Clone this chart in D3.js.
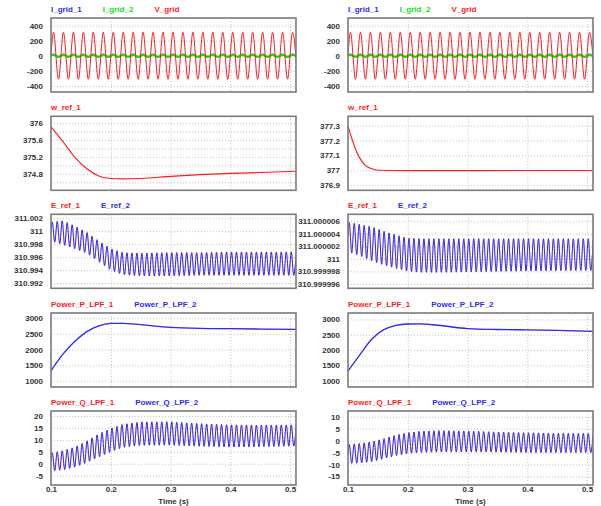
<!DOCTYPE html>
<html>
<head>
<meta charset="utf-8">
<script src="https://cdn.jsdelivr.net/npm/d3@7"></script>
<style>
  body { margin: 0; background: #fff; }
  svg { display: block; }
  text { font-family: "Liberation Sans", Arial, sans-serif; font-weight: bold; }
</style>
</head>
<body>
<svg id="chart" width="601" height="506"></svg>
<script>
// time axis (s)
const xDomain = [0.1, 0.51];
const xTicks = [0.1, 0.2, 0.3, 0.4, 0.5];
const xLabels = ['0.1', '0.2', '0.3', '0.4', '0.5'];

// oscillation frequencies (Hz)
const gridFreq = 60;
const rippleFreq = 120;

// sample times for the envelopes / slow traces
const timeGrid = [0.1, 0.12, 0.14, 0.16, 0.18, 0.2, 0.22, 0.25, 0.3, 0.35, 0.4, 0.45, 0.51];

// panel 1: grid voltage / currents (envelopes, same both sides)
const vGridT = [0.1, 0.51];
const vGridUpper = [311, 311];
const vGridLower = [-311, -311];
const iGridUpper = [15, 15];
const iGridLower = [-15, -15];

// panel 2: w_ref_1
const wRefLeft = [375.91, 375.56, 375.19, 374.92, 374.75, 374.69, 374.68, 374.69, 374.74, 374.78, 374.81, 374.83, 374.86];
const wRefRightT = [0.1, 0.105, 0.11, 0.115, 0.12, 0.13, 0.14, 0.15, 0.2, 0.3, 0.4, 0.51];
const wRefRight = [377.30, 377.23, 377.17, 377.12, 377.08, 377.03, 377.01, 377.0, 376.998, 376.998, 376.999, 376.999];

// panel 3: E_ref ripple envelopes
const eRefLeftUpper = [311.0014, 311.0016, 311.0008, 310.9998, 310.9985, 310.9973, 310.9967, 310.9966, 310.9967, 310.9967, 310.9968, 310.9968, 310.9968];
const eRefLeftLower = [310.9985, 310.9979, 310.9973, 310.9966, 310.9953, 310.9940, 310.9933, 310.9931, 310.9931, 310.9932, 310.9932, 310.9932, 310.9932];
const eRefRightUpper = [311.0000058, 311.0000055, 311.0000051, 311.0000044, 311.0000038, 311.0000033, 311.0000032, 311.0000032, 311.0000032, 311.0000032, 311.0000032, 311.0000032, 311.0000032];
const eRefRightLower = [311.0000011, 311.0000005, 310.9999997, 310.999999, 310.9999985, 310.999998, 310.99999785, 310.99999785, 310.9999979, 310.999998, 310.99999805, 310.9999981, 310.99999815];

// panel 4: Power_P_LPF
const pLeft = [1320, 1850, 2260, 2570, 2755, 2830, 2835, 2790, 2705, 2672, 2662, 2652, 2638];
const pRight = [1310, 1850, 2360, 2665, 2805, 2850, 2855, 2810, 2700, 2670, 2658, 2640, 2612];

// panel 5: Power_Q_LPF ripple envelopes
const qLeftUpper = [4.5, 5.5, 7.0, 9.5, 12.5, 14.8, 16.5, 17.5, 17.6, 16.8, 16.3, 16.2, 16.3];
const qLeftLower = [-3.0, -2.6, -1.4, 0.5, 2.8, 5.0, 6.8, 7.7, 7.8, 7.3, 7.0, 7.1, 7.4];
const qRightUpper = [-1.6, -1.2, -0.5, 0.8, 2.3, 3.3, 3.9, 4.2, 4.0, 3.6, 3.3, 3.1, 3.0];
const qRightLower = [-9.6, -9.4, -8.8, -7.6, -6.3, -5.4, -5.0, -4.8, -4.7, -4.8, -5.0, -5.0, -5.0];

// y ticks
const ticksGrid = [-400, -200, 0, 200, 400];
const wLeftGrid = [374.6, 374.8, 375.0, 375.2, 375.4, 375.6, 375.8, 376.0];
const wLeftLabels = [374.8, 375.2, 375.6, 376];
const wRightTicks = [376.9, 377, 377.1, 377.2, 377.3];
const eLeftTicks = [310.992, 310.994, 310.996, 310.998, 311, 311.002];
const eRightTicks = [310.999996, 310.999998, 311, 311.000002, 311.000004, 311.000006];
const pTicks = [1000, 1500, 2000, 2500, 3000];
const qLeftTicks = [-5, 0, 5, 10, 15, 20];
const qRightTicks = [-15, -10, -5, 0, 5, 10];

const RED = '#ff1a1a', BLUE = '#2b2bf5', GREEN = '#10dd10';

const svg = d3.select('#chart');
const cols = [51, 348];
const plotW = 245, plotH = 74;
const tops = [18, 116.3, 214.3, 313, 411];

function slow(t, v, color, width) { return { kind: 'slow', t, v, color, width }; }
function osc(t, upper, lower, freq, color, width) { return { kind: 'osc', t, upper, lower, freq, color, width }; }

const panels = [
  // left column
  { col: 0, row: 0, legend: [['I_grid_1', BLUE], ['I_grid_2', GREEN], ['V_grid', RED]],
    y: [-480, 500], grid: ticksGrid, labels: ticksGrid,
    series: [osc(vGridT, iGridUpper, iGridLower, gridFreq, BLUE, 1.5), osc(vGridT, iGridUpper, iGridLower, gridFreq, GREEN, 2.4), osc(vGridT, vGridUpper, vGridLower, gridFreq, RED, 1)] },
  { col: 0, row: 1, legend: [['w_ref_1', RED]],
    y: [374.41, 376.16], grid: wLeftGrid, labels: wLeftLabels,
    series: [slow(timeGrid, wRefLeft, RED, 1.1)] },
  { col: 0, row: 2, legend: [['E_ref_1', RED], ['E_ref_2', BLUE]],
    y: [310.9912, 311.0026], grid: eLeftTicks, labels: eLeftTicks,
    series: [osc(timeGrid, eRefLeftUpper, eRefLeftLower, rippleFreq, RED, 0.3), osc(timeGrid, eRefLeftUpper, eRefLeftLower, rippleFreq, BLUE, 1)] },
  { col: 0, row: 3, legend: [['Power_P_LPF_1', RED], ['Power_P_LPF_2', BLUE]],
    y: [804, 3163], grid: pTicks, labels: pTicks,
    series: [slow(timeGrid, pLeft, RED, 0.3), slow(timeGrid, pLeft, BLUE, 1.3)] },
  { col: 0, row: 4, legend: [['Power_Q_LPF_1', RED], ['Power_Q_LPF_2', BLUE]],
    y: [-8.9, 22.1], grid: qLeftTicks, labels: qLeftTicks,
    series: [osc(timeGrid, qLeftUpper, qLeftLower, rippleFreq, RED, 0.3), osc(timeGrid, qLeftUpper, qLeftLower, rippleFreq, BLUE, 1)] },
  // right column
  { col: 1, row: 0, legend: [['I_grid_1', BLUE], ['I_grid_2', GREEN], ['V_grid', RED]],
    y: [-480, 500], grid: ticksGrid, labels: ticksGrid,
    series: [osc(vGridT, iGridUpper, iGridLower, gridFreq, BLUE, 1.5), osc(vGridT, iGridUpper, iGridLower, gridFreq, GREEN, 2.4), osc(vGridT, vGridUpper, vGridLower, gridFreq, RED, 1)] },
  { col: 1, row: 1, legend: [['w_ref_1', RED]],
    y: [376.866, 377.362], grid: wRightTicks, labels: wRightTicks,
    series: [slow(wRefRightT, wRefRight, RED, 1.1)] },
  { col: 1, row: 2, legend: [['E_ref_1', RED], ['E_ref_2', BLUE]],
    y: [310.9999953, 311.0000071], grid: eRightTicks, labels: eRightTicks,
    series: [osc(timeGrid, eRefRightUpper, eRefRightLower, rippleFreq, RED, 0.3), osc(timeGrid, eRefRightUpper, eRefRightLower, rippleFreq, BLUE, 1)] },
  { col: 1, row: 3, legend: [['Power_P_LPF_1', RED], ['Power_P_LPF_2', BLUE]],
    y: [790, 3210], grid: pTicks, labels: pTicks,
    series: [slow(timeGrid, pRight, RED, 0.3), slow(timeGrid, pRight, BLUE, 1.3)] },
  { col: 1, row: 4, legend: [['Power_Q_LPF_1', RED], ['Power_Q_LPF_2', BLUE]],
    y: [-18.6, 12.4], grid: qRightTicks, labels: qRightTicks,
    series: [osc(timeGrid, qRightUpper, qRightLower, rippleFreq, RED, 0.3), osc(timeGrid, qRightUpper, qRightLower, rippleFreq, BLUE, 1)] },
];

const fmt = d => String(+d.toFixed(7));

// peaks / troughs every half period, values taken from the envelopes
function oscPoints(s) {
  const up = d3.scaleLinear().domain(s.t).range(s.upper).clamp(true);
  const lo = d3.scaleLinear().domain(s.t).range(s.lower).clamp(true);
  const half = 1 / (2 * s.freq);
  const t0 = xDomain[0];
  const pts = [[t0, (up(t0) + lo(t0)) / 2]];
  for (let k = 0; ; k++) {
    const t = t0 + half / 2 + k * half;
    if (t > xDomain[1] + half) break;
    pts.push([t, k % 2 === 0 ? up(t) : lo(t)]);
  }
  return pts;
}

panels.forEach((p, i) => {
  const left = cols[p.col], top = tops[p.row];
  const x = d3.scaleLinear().domain(xDomain).range([0, plotW]);
  const y = d3.scaleLinear().domain(p.y).range([plotH, 0]);

  const g = svg.append('g').attr('transform', `translate(${left},${top})`);

  g.append('clipPath').attr('id', 'clip' + i)
    .append('rect').attr('width', plotW).attr('height', plotH);

  // grid
  g.append('g').attr('class', 'grid')
    .call(d3.axisLeft(y).tickValues(p.grid).tickSize(-plotW).tickFormat(''))
    .call(a => a.select('.domain').remove())
    .selectAll('line').attr('stroke', '#c4c4c4').attr('stroke-dasharray', '1,2');
  g.append('g').attr('class', 'grid')
    .call(d3.axisBottom(x).tickValues(xTicks.slice(1)).tickSize(plotH).tickFormat(''))
    .call(a => a.select('.domain').remove())
    .selectAll('line').attr('stroke', '#c4c4c4').attr('stroke-dasharray', '1,2');

  // y labels
  g.append('g')
    .call(d3.axisLeft(y).tickValues(p.labels).tickSize(0).tickPadding(8).tickFormat(fmt))
    .call(a => a.select('.domain').remove())
    .selectAll('text').attr('font-size', 8).attr('fill', '#333')
    .style('font-family', '"Liberation Sans", Arial, sans-serif').style('font-weight', 'bold');

  // traces, drawn in legend order
  const line = d3.line().x(d => x(d[0])).y(d => y(d[1])).curve(d3.curveMonotoneX);
  const traces = g.append('g').attr('clip-path', `url(#clip${i})`);
  p.series.forEach(s => {
    const pts = s.kind === 'slow' ? s.t.map((t, j) => [t, s.v[j]]) : oscPoints(s);
    traces.append('path')
      .datum(pts)
      .attr('fill', 'none')
      .attr('stroke', s.color)
      .attr('stroke-width', s.width)
      .attr('d', line);
  });

  // frame
  g.append('rect').attr('width', plotW).attr('height', plotH)
    .attr('fill', 'none').attr('stroke', '#7a7a7a').attr('stroke-width', 1.6);

  // legend
  let lx = 0;
  p.legend.forEach(([name, color]) => {
    const t = g.append('text').attr('x', lx).attr('y', -6.5)
      .attr('font-size', 8).attr('fill', color).text(name);
    lx += t.node().getComputedTextLength() + 21;
  });

  // time axis on bottom row
  if (p.row === 4) {
    g.append('g').attr('transform', `translate(0,${plotH})`)
      .call(d3.axisBottom(x).tickValues(xTicks).tickSize(0).tickPadding(1.5).tickFormat((d, j) => xLabels[j]))
      .call(a => a.select('.domain').remove())
      .selectAll('text').attr('font-size', 8).attr('fill', '#333')
      .style('font-family', '"Liberation Sans", Arial, sans-serif').style('font-weight', 'bold');
    g.append('text').attr('x', plotW / 2).attr('y', plotH + 18.5)
      .attr('text-anchor', 'middle').attr('font-size', 8).attr('fill', '#333')
      .text('Time (s)');
  }
});
</script>
</body>
</html>
